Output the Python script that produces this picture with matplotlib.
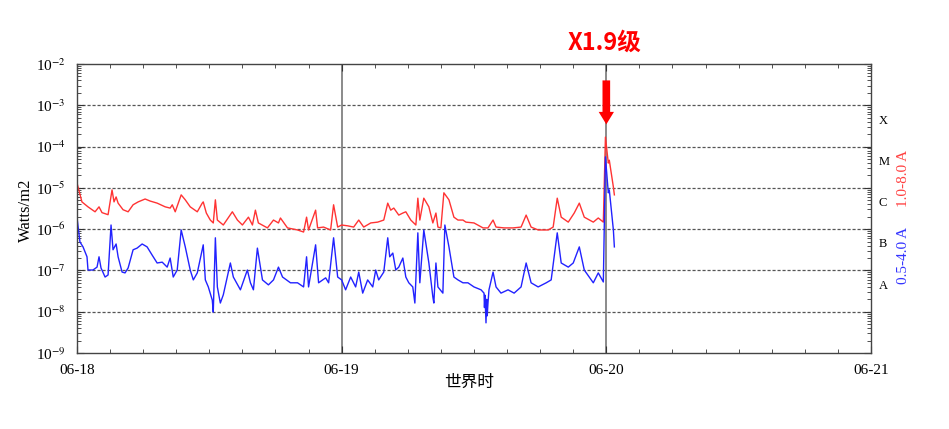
import matplotlib
matplotlib.use('Agg')
import matplotlib.pyplot as plt
from matplotlib.ticker import FixedLocator, FixedFormatter, LogLocator, NullFormatter
import numpy as np

# hours since 06-18 00:00 UT, log10 of flux (W/m2)
red_hours = [0, 0.45, 1.0, 1.64, 2.0, 2.27, 2.82, 3.18, 3.36, 3.55, 3.73, 4.18, 4.64, 5.09,
             5.55, 6.18, 6.64, 7.27, 8.0, 8.45, 8.64, 8.91, 9.45, 9.82, 10.27, 10.91, 11.36,
             11.45, 11.73, 12.09, 12.36, 12.55, 12.73, 13.27, 14.09, 14.55, 15.0, 15.55, 15.91,
             16.18, 16.45, 17.27, 17.82, 18.27, 18.45, 19.09, 20.0, 20.55, 20.82, 21.0, 21.64,
             21.82, 22.36, 23.0, 23.27, 23.64, 24.0, 24.55, 25.09, 25.55, 26.0, 26.64, 27.27,
             27.82, 28.18, 28.45, 28.73, 29.18, 29.55, 29.82, 30.27, 30.73, 30.91, 31.09, 31.45,
             31.91, 32.27, 32.55, 32.73, 33.0, 33.27, 33.73, 34.18, 34.55, 35.0, 35.27, 36.0,
             36.82, 37.27, 37.73, 38.0, 38.73, 39.55, 40.27, 40.73, 41.18, 41.82, 42.73, 43.18,
             43.55, 43.91, 44.55, 45.09, 45.55, 46.0, 46.82, 47.27, 47.73, 47.92, 48.18, 48.27,
             48.64, 48.73]
red_log = [-4.88, -5.34, -5.46, -5.58, -5.46, -5.60, -5.65, -5.05, -5.34, -5.22, -5.37, -5.53,
           -5.58, -5.41, -5.34, -5.27, -5.32, -5.37, -5.46, -5.49, -5.41, -5.58, -5.17, -5.29,
           -5.46, -5.58, -5.37, -5.34, -5.61, -5.78, -5.85, -5.29, -5.78, -5.90, -5.58, -5.78,
           -5.90, -5.71, -5.90, -5.54, -5.85, -5.97, -5.78, -5.85, -5.73, -5.97, -6.02, -6.07,
           -5.71, -6.02, -5.54, -5.97, -5.95, -6.02, -5.41, -5.95, -5.90, -5.92, -5.95, -5.78,
           -5.95, -5.85, -5.83, -5.78, -5.37, -5.54, -5.49, -5.66, -5.61, -5.58, -5.78, -5.90,
           -5.25, -5.78, -5.25, -5.46, -5.85, -5.61, -5.95, -5.97, -5.12, -5.29, -5.71, -5.78,
           -5.78, -5.83, -5.85, -5.97, -5.97, -5.78, -5.95, -5.97, -5.97, -5.95, -5.66, -5.95,
           -6.02, -6.02, -5.95, -5.25, -5.71, -5.83, -5.61, -5.37, -5.71, -5.83, -5.73, -5.83,
           -3.77, -4.40, -4.33, -4.98, -5.17]

blue_hours = [0, 0.27, 0.55, 0.91, 1.0, 1.45, 1.82, 2.0, 2.18, 2.55, 2.82, 3.09, 3.27, 3.55,
              3.73, 4.09, 4.36, 4.64, 5.09, 5.45, 5.91, 6.36, 6.82, 7.27, 7.73, 8.18, 8.45,
              8.73, 9.09, 9.45, 9.82, 10.27, 10.55, 10.91, 11.45, 11.64, 11.91, 12.27, 12.36,
              12.55, 12.73, 13.0, 13.27, 13.91, 14.18, 14.82, 15.45, 15.73, 16.0, 16.36, 16.82,
              17.36, 17.82, 18.27, 18.64, 19.36, 20.0, 20.55, 20.82, 21.0, 21.64, 21.91, 22.55,
              22.82, 23.27, 23.64, 24.0, 24.36, 24.82, 25.27, 25.55, 25.91, 26.36, 26.82, 27.09,
              27.36, 27.82, 28.18, 28.36, 28.64, 28.91, 29.18, 29.55, 29.82, 30.09, 30.45, 30.64,
              30.91, 31.09, 31.45, 31.91, 32.27, 32.36, 32.55, 32.73, 33.18, 33.36, 33.73, 34.18,
              34.55, 35.0, 35.45, 36.0, 36.64, 36.91, 36.95, 37.0, 37.09, 37.15, 37.2, 37.27,
              37.36, 37.73, 38.0, 38.45, 39.09, 39.64, 40.27, 40.73, 41.18, 41.82, 42.55, 43.0,
              43.55, 43.91, 44.55, 45.0, 45.55, 46.0, 46.82, 47.27, 47.73, 47.92, 48.18, 48.27,
              48.64, 48.73]
blue_log = [-5.71, -6.31, -6.43, -6.67, -6.99, -6.99, -6.92, -6.67, -6.94, -7.16, -7.11, -5.90,
            -6.50, -6.36, -6.67, -7.04, -7.06, -6.94, -6.50, -6.46, -6.36, -6.43, -6.63, -6.82,
            -6.80, -6.92, -6.70, -7.16, -6.99, -6.02, -6.43, -6.99, -7.23, -7.06, -6.38, -7.23,
            -7.40, -7.72, -8.01, -6.21, -7.40, -7.79, -7.59, -6.82, -7.16, -7.47, -6.99, -7.30,
            -7.47, -6.46, -7.23, -7.35, -7.23, -6.92, -7.16, -7.30, -7.30, -7.40, -6.67, -7.40,
            -6.38, -7.30, -7.18, -7.30, -6.21, -7.16, -7.23, -7.47, -7.16, -7.40, -7.04, -7.55,
            -7.23, -7.40, -6.99, -7.23, -7.04, -6.21, -6.67, -6.58, -6.99, -6.92, -6.70, -7.16,
            -7.30, -7.40, -7.79, -6.09, -7.30, -6.02, -6.82, -7.64, -7.79, -6.82, -7.40, -7.55,
            -5.90, -6.43, -7.16, -7.23, -7.30, -7.30, -7.40, -7.47, -7.55, -7.90, -7.60, -8.27,
            -7.70, -8.10, -7.79, -7.47, -7.04, -7.40, -7.55, -7.47, -7.55, -7.40, -6.82, -7.30,
            -7.40, -7.30, -7.23, -6.09, -6.82, -6.92, -6.82, -6.43, -6.99, -7.30, -7.06, -7.28,
            -4.25, -5.12, -5.05, -6.02, -6.43]

day_ticks = [0, 24, 48, 72]
day_labels = ['06-18', '06-19', '06-20', '06-21']
decades = [-9, -8, -7, -6, -5, -4, -3, -2]
class_letters = ['A', 'B', 'C', 'M', 'X']
class_log = [-7.37, -6.37, -5.37, -4.37, -3.37]

plt.rcParams['mathtext.fontset'] = 'stix'
serif = ['Liberation Serif', 'DejaVu Serif']
cjk = ['Noto Sans CJK SC', 'DejaVu Sans']

fig = plt.figure(figsize=(9.49, 4.29), dpi=100)
ax = fig.add_axes([0.0811, 0.1772, 0.8367, 0.6736])

ax.plot(red_hours, 10 ** np.array(red_log), color='#ff3333', lw=1.0)
ax.plot(blue_hours, 10 ** np.array(blue_log), color='#2222ff', lw=1.0)

ax.set_yscale('log')
ax.set_ylim(1e-9, 1e-2)
ax.set_xlim(0, 72)

for d in decades[1:-1]:
    ax.axhline(10.0 ** d, color='#555555', lw=0.9, ls=(0, (2.5, 1.5)), zorder=0)
for h in day_ticks[1:-1]:
    ax.axvline(h, color='#777777', lw=1.2, zorder=0)

ax.xaxis.set_major_locator(FixedLocator(day_ticks))
ax.xaxis.set_major_formatter(FixedFormatter(day_labels))
ax.xaxis.set_minor_locator(FixedLocator(np.arange(0, 73, 3)))
ax.yaxis.set_major_locator(FixedLocator([10.0 ** d for d in decades]))
ax.yaxis.set_major_formatter(FixedFormatter(['10$^{%d}$' % d for d in decades]))
ax.yaxis.set_minor_locator(LogLocator(base=10, subs=np.arange(2, 10)))
ax.yaxis.set_minor_formatter(NullFormatter())

ax.tick_params(which='both', direction='in', top=True, right=True, color='#333333')
ax.tick_params(which='major', length=5, labelsize=11, pad=8)
ax.tick_params(which='minor', length=3)
for lab in ax.get_xticklabels() + ax.get_yticklabels():
    lab.set_family(serif)
for sp in ax.spines.values():
    sp.set_color('#444444')
    sp.set_linewidth(1.0)

for letter, lv in zip(class_letters, class_log):
    ax.text(1.01, 10 ** lv, letter, transform=ax.get_yaxis_transform(),
            ha='left', va='center', fontsize=9, family=serif)

fig.text(0.952, 0.585, '1.0-8.0 A', rotation=90, color='#ff4040', fontsize=11,
         family=serif, ha='center', va='center')
fig.text(0.952, 0.405, '0.5-4.0 A', rotation=90, color='#3333ff', fontsize=11,
         family=serif, ha='center', va='center')

fig.text(0.027, 0.51, 'Watts/m2', rotation=90, fontsize=12, family=serif,
         ha='center', va='center')
fig.text(0.494, 0.108, '世界时', fontsize=12, family=cjk, ha='center', va='center')

fig.text(0.637, 0.90, 'X1.9级', color='#ff0000', fontsize=17, fontweight='bold',
         family=cjk, ha='center', va='center')
ax.annotate('', xy=(48, 10 ** -3.53), xytext=(48, 10 ** -2.33),
            arrowprops=dict(arrowstyle='simple,head_width=1.1,head_length=0.9,tail_width=0.55',
                            color='#ff0000', lw=0))

fig.savefig('out.png', dpi=100)
